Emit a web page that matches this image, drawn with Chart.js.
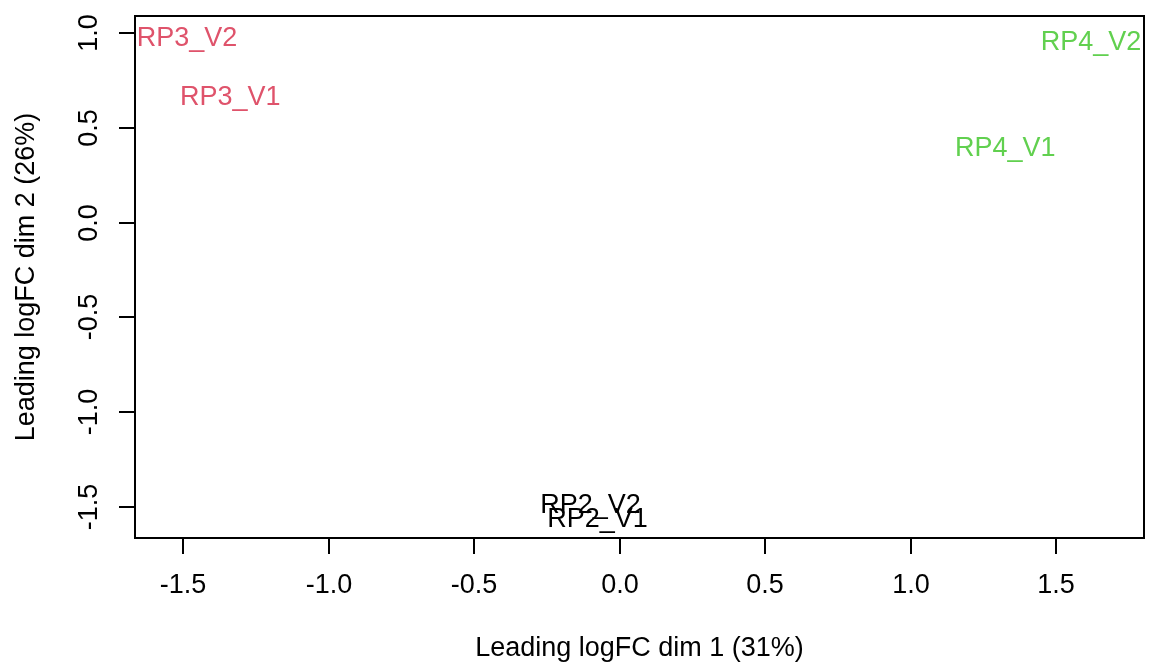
<!DOCTYPE html>
<html>
<head>
<meta charset="utf-8">
<title>MDS plot</title>
<script src="https://cdn.jsdelivr.net/npm/chart.js@4.4.1/dist/chart.umd.min.js"></script>
<style>
    body { margin: 0; background: #ffffff; }
    #wrap { width: 1149px; height: 666px; }
</style>
</head>
<body>
<div id="wrap"><canvas id="mdsChart" width="1149" height="666"></canvas></div>
<script>
// Sample names, group colours and MDS coordinates
const sampleNames = ['RP2_V1', 'RP2_V2', 'RP3_V1', 'RP3_V2', 'RP4_V1', 'RP4_V2'];
const sampleColors = ['#000000', '#000000', '#DF536B', '#DF536B', '#61D04F', '#61D04F'];
const dim1 = [-0.076, -0.100, -1.338, -1.486, 1.325, 1.620];
const dim2 = [-1.553, -1.479, 0.668, 0.979, 0.404, 0.963];

// Axis ticks and titles
const xTicks = [-1.5, -1.0, -0.5, 0.0, 0.5, 1.0, 1.5];
const yTicks = [-1.5, -1.0, -0.5, 0.0, 0.5, 1.0];
const xTitle = 'Leading logFC dim 1 (31%)';
const yTitle = 'Leading logFC dim 2 (26%)';

const fontSpec = '27px "Liberation Sans", Arial, sans-serif';
const tickLen = 16;

// Build one point per sample so labels can sit on them
const points = sampleNames.map((name, i) => ({ x: dim1[i], y: dim2[i] }));

// Plugin: draws the box, axes, and sample labels in base-graphics style
const basePlotPlugin = {
    id: 'basePlot',
    afterDatasetsDraw(chart) {
        const ctx = chart.ctx;
        const area = chart.chartArea;
        const xScale = chart.scales.x;
        const yScale = chart.scales.y;

        ctx.save();
        ctx.strokeStyle = '#000000';
        ctx.lineWidth = 2;
        ctx.strokeRect(area.left, area.top, area.right - area.left, area.bottom - area.top);

        ctx.font = fontSpec;
        ctx.fillStyle = '#000000';

        // bottom axis
        ctx.textAlign = 'center';
        ctx.textBaseline = 'middle';
        xTicks.forEach(v => {
            const px = Math.round(xScale.getPixelForValue(v));
            ctx.beginPath();
            ctx.moveTo(px, area.bottom);
            ctx.lineTo(px, area.bottom + tickLen);
            ctx.stroke();
            ctx.fillText(v.toFixed(1), px, area.bottom + 48);
        });
        ctx.fillText(xTitle, (area.left + area.right) / 2, area.bottom + 111);

        // left axis, labels read bottom to top
        yTicks.forEach(v => {
            const py = Math.round(yScale.getPixelForValue(v));
            ctx.beginPath();
            ctx.moveTo(area.left, py);
            ctx.lineTo(area.left - tickLen, py);
            ctx.stroke();
            ctx.save();
            ctx.translate(area.left - 45, py);
            ctx.rotate(-Math.PI / 2);
            ctx.fillText(v.toFixed(1), 0, 0);
            ctx.restore();
        });
        ctx.save();
        ctx.translate(area.left - 108, (area.top + area.bottom) / 2);
        ctx.rotate(-Math.PI / 2);
        ctx.fillText(yTitle, 0, 0);
        ctx.restore();

        // sample labels centred on their coordinates
        chart.data.datasets[0].data.forEach((p, i) => {
            ctx.fillStyle = sampleColors[i];
            ctx.fillText(sampleNames[i], xScale.getPixelForValue(p.x), yScale.getPixelForValue(p.y) + 2);
        });
        ctx.restore();
    }
};

const ctx = document.getElementById('mdsChart').getContext('2d');
new Chart(ctx, {
    type: 'scatter',
    data: {
        datasets: [{
            data: points,
            pointRadius: 0,
            pointHoverRadius: 0
        }]
    },
    options: {
        responsive: false,
        animation: false,
        events: [],
        layout: {
            padding: { left: 135, top: 16, right: 5, bottom: 128 }
        },
        plugins: {
            legend: { display: false },
            tooltip: { enabled: false }
        },
        scales: {
            x: { type: 'linear', min: -1.665, max: 1.802, display: false },
            y: { type: 'linear', min: -1.663, max: 1.090, display: false }
        }
    },
    plugins: [basePlotPlugin]
});
</script>
</body>
</html>
